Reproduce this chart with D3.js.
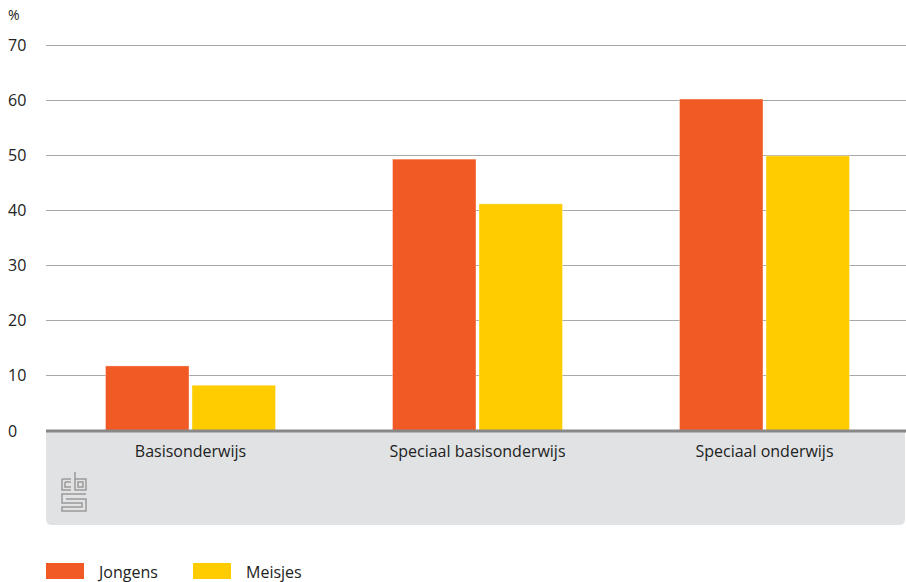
<!DOCTYPE html>
<html><head><meta charset="utf-8">
<script src="https://cdn.jsdelivr.net/npm/d3@7"></script>
<style>body{margin:0;background:#fff;} text{font-family:"Open Sans","Noto Sans",sans-serif;}</style>
</head><body>
<svg id="c" width="906" height="582"></svg>
<script>
const categories = ["Basisonderwijs", "Speciaal basisonderwijs", "Speciaal onderwijs"];
const seriesNames = ["Jongens", "Meisjes"];
const jongens = [11.8, 49.3, 60.2];
const meisjes = [8.3, 41.2, 49.9];
const yTicks = [0, 10, 20, 30, 40, 50, 60, 70];
const colors = ["#f15a24", "#ffcc00"];

(function () {
const svg = d3.select("#c");
const mLeft = 46, mRight = 906, mTop = 45, mBottom = 431;
const x = d3.scaleBand().domain(categories).range([47, 908]);
const xs = d3.scaleBand().domain(seriesNames).range([0, 170]).paddingInner(0.035);
const y = d3.scaleLinear().domain([0, 70]).range([mBottom, mTop]);

// gray footer box
svg.append("path")
  .attr("d", `M${mLeft},${mBottom} H${mRight-1} V${525-6} Q${mRight-1},525 ${mRight-7},525 H${mLeft+6} Q${mLeft},525 ${mLeft},${525-6} Z`)
  .attr("fill", "#e1e2e4");

// gridlines
svg.append("g").selectAll("line").data(yTicks.filter(d => d > 0)).join("line")
  .attr("x1", mLeft).attr("x2", mRight).attr("y1", d => y(d)).attr("y2", d => y(d))
  .attr("stroke", "#a8a8a8").attr("stroke-width", 1).attr("shape-rendering", "crispEdges");

// y tick labels
svg.append("g").selectAll("text").data(yTicks).join("text")
  .attr("x", 8).attr("y", d => y(d)).attr("dy", "0.35em")
  .attr("font-size", 16).attr("fill", "#222").text(d => d);
svg.append("text").attr("x", 8).attr("y", 20).attr("font-size", 14).attr("fill", "#222").text("%");

// bars
const data = categories.map((c, i) => ({c, vals: [jongens[i], meisjes[i]]}));
const groups = svg.append("g").selectAll("g").data(data).join("g")
  .attr("transform", d => `translate(${x(d.c) + x.bandwidth()/2 - 85},0)`);
groups.selectAll("rect").data(d => d.vals.map((v, j) => ({s: seriesNames[j], v, j}))).join("rect")
  .attr("x", d => xs(d.s)).attr("width", xs.bandwidth())
  .attr("y", d => y(d.v)).attr("height", d => y(0) - y(d.v))
  .attr("fill", d => colors[d.j])
  .attr("stroke", "rgba(255,255,255,0.35)").attr("stroke-width", 1);

// axis baseline
svg.append("line").attr("x1", mLeft).attr("x2", mRight).attr("y1", mBottom).attr("y2", mBottom)
  .attr("stroke", "#888").attr("stroke-width", 3);

// category labels
svg.append("g").selectAll("text").data(categories).join("text")
  .attr("x", d => x(d) + x.bandwidth()/2).attr("y", 457)
  .attr("text-anchor", "middle").attr("font-size", 16).attr("fill", "#222").text(d => d);

// cbs logo
const lg = svg.append("g").attr("transform", "translate(61,471)")
  .attr("fill", "none").attr("stroke", "#9a9a9a").attr("stroke-width", 1.5);
lg.append("path").attr("d", "M1,8 H10 M1,8 V19 H10 M4,11 H10 M4,11 V16 H10");
lg.append("path").attr("d", "M14,1 V19 H25 V8 H14 M17,11 H22 V16 H17 Z");
lg.append("path").attr("d", "M25,23 H1 V32 H21 V36 H1 V40 H25 V28 H5");
})();
(function () {
const svg = d3.select("#c");
const leg = svg.append("g").selectAll("g").data(seriesNames).join("g")
  .attr("transform", (d, i) => `translate(${46 + i * 147},563)`);
leg.append("rect").attr("width", 38).attr("height", 16).attr("fill", (d, i) => colors[i]);
leg.append("text").attr("x", 53).attr("y", 15).attr("font-size", 16).attr("fill", "#222").text(d => d);
})();
</script>
</body></html>
